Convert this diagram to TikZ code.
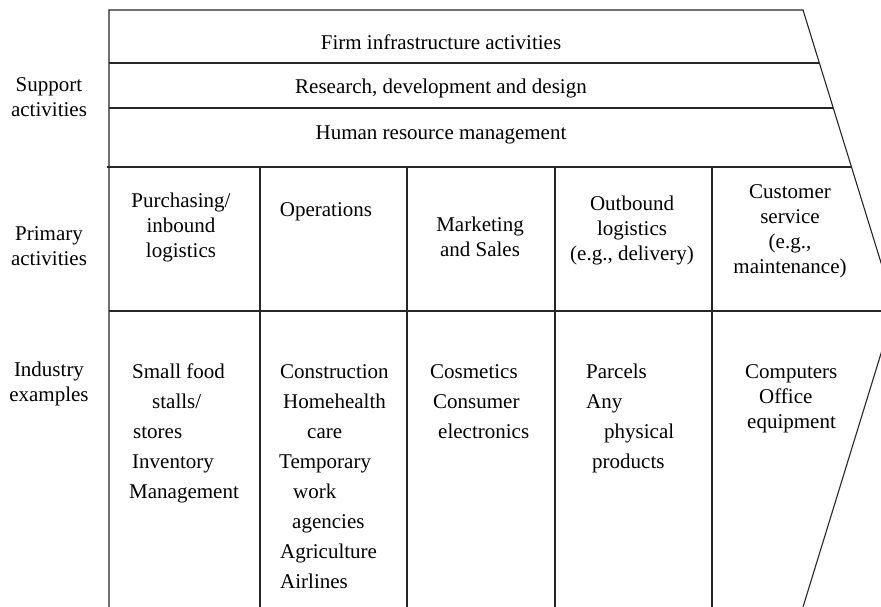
\documentclass[tikz,border=0pt]{standalone}
\usepackage{fontspec}
\setmainfont{Liberation Serif}
\usetikzlibrary{positioning}

\tikzset{
  rule/.style={line width=1.1pt, black!85},
  txt/.style={inner sep=0pt, font=\fontsize{21}{25}\selectfont},
  head/.style={txt, align=center},
  item/.style={txt, anchor=base west},
}

\begin{document}
\begin{tikzpicture}[x=1pt, y=-1pt]
  \useasboundingbox (0,0) rectangle (881,607);
  \clip (0,0) rectangle (881,607);

  % Outline of the chain, the arrow tip runs off to the right
  \draw[rule] (109,607) -- (109,10) -- (803,10) -- (895,308) -- (803,607);

  % Support rows
  \foreach \y/\xr in {63/819, 108/833} {
    \draw[rule] (109,\y) -- (\xr,\y);
  }
  \draw[rule] (107,167) -- (851,167);
  \draw[rule] (109,311) -- (894,311);

  % Column rules of the primary part
  \foreach \x in {260, 407, 555, 712} {
    \draw[rule] (\x,167) -- (\x,607);
  }

  % Support activities
  \node[txt] (infra) at (441,42) {Firm infrastructure activities};
  \node[txt] (rdd)   at (441,88) {Research, development and design};
  \node[txt] (hrm)   at (441,135) {Human resource management};

  % Row labels on the left
  \node[head] (support) at (49,97)  {Support\\activities};
  \node[head] (primary) at (49,246) {Primary\\activities};
  \node[head] (industry) at (49,384) {Industry\\examples};

  % Primary activities
  \node[head] (inbound)  at (181,227) {Purchasing/\\inbound\\logistics};
  \node[head] (ops)      at (326,212) {Operations};
  \node[head] (mkt)      at (480,237) {Marketing\\and Sales};
  \node[head] (outbound) at (632,230) {Outbound\\logistics\\(e.g., delivery)};
  \node[head] (service)  at (790,231) {Customer\\service\\(e.g.,\\maintenance)};

  % Industry examples, one line per node (y is the baseline)
  \foreach \x/\y/\t [count=\i] in {132/378/Small food, 152/408/{stalls/},
      133/438/stores, 132/468/Inventory, 129/498/Management} {
    \node[item] (exin-\i) at (\x,\y) {\t};
  }
  \foreach \x/\y/\t [count=\i] in {280/378/Construction, 283/408/Homehealth,
      307/438/care, 279/468/Temporary, 293/498/work, 292/528/agencies,
      280/558/Agriculture, 280/588/Airlines} {
    \node[item] (exops-\i) at (\x,\y) {\t};
  }
  \foreach \x/\y/\t [count=\i] in {430/378/Cosmetics, 433/408/Consumer,
      438/438/electronics} {
    \node[item] (exmkt-\i) at (\x,\y) {\t};
  }
  \foreach \x/\y/\t [count=\i] in {586/378/Parcels, 586/408/Any,
      604/438/physical, 592/468/products} {
    \node[item] (exout-\i) at (\x,\y) {\t};
  }
  \foreach \x/\y/\t [count=\i] in {745/378/Computers, 759/403/Office,
      747/428/equipment} {
    \node[item] (exserv-\i) at (\x,\y) {\t};
  }
\end{tikzpicture}
\end{document}
